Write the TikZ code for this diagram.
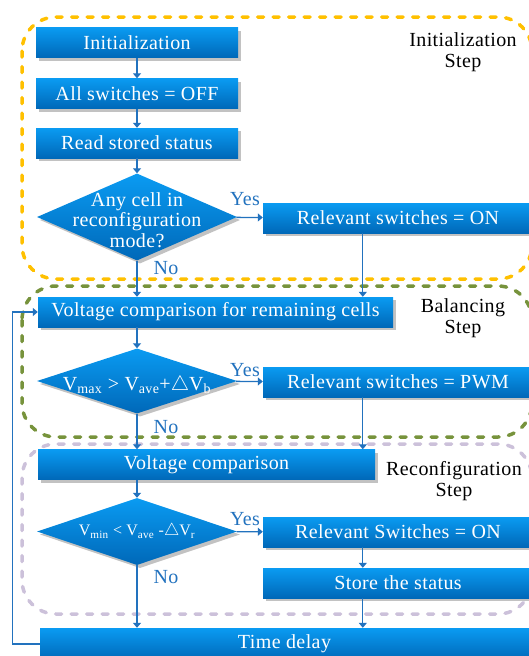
\documentclass[tikz,border=0pt]{standalone}
\usepackage{fontspec}
\setmainfont{Liberation Serif}[LetterSpace=2]
\usepackage{xcolor}
\usepackage{tikz}
\usetikzlibrary{shapes.geometric,arrows.meta,shadows}
\definecolor{CBoxTop}{HTML}{0A9BF2}
\definecolor{CBoxBot}{HTML}{0068B8}
\definecolor{CLine}{HTML}{2272BE}
\definecolor{CInit}{HTML}{FFC000}
\definecolor{CBal}{HTML}{77933C}
\definecolor{CRec}{HTML}{CCC1DA}

\begin{document}
\begin{tikzpicture}[inner sep=0pt,
  box/.style={shape=rectangle, minimum height=30pt, top color=CBoxTop, bottom color=CBoxBot, text=white, font=\fontsize{20}{22}\selectfont, drop shadow={shadow xshift=3pt, shadow yshift=-3pt, fill=gray!80, opacity=0.6}},
  decision/.style={shape=diamond, minimum width=200pt, top color=CBoxTop, bottom color=CBoxBot, drop shadow={shadow xshift=3pt, shadow yshift=-3pt, fill=gray!80, opacity=0.6}},
  dectext/.style={text=white, align=center, font=\fontsize{20}{20.5}\selectfont},
  answer/.style={text=CLine, font=\fontsize{20}{22}\selectfont},
  steplabel/.style={align=center, font=\fontsize{20}{21}\selectfont},
  flow/.style={draw=CLine, line width=1.3pt, -{Triangle[length=5pt,width=8pt]}},
  zone/.style={line width=3.5pt, dash pattern=on 6pt off 9.5pt, line cap=round, rounded corners=34pt}]
\useasboundingbox (0pt,0pt) rectangle (528pt,-656pt);

\draw [zone, CInit] (22pt,-17pt) rectangle (532pt,-279pt);
\draw [zone, CBal] (22pt,-286pt) rectangle (532pt,-437pt);
\draw [zone, CRec] (22pt,-444pt) rectangle (532pt,-614pt);

\node (n0) [box, minimum width=202pt, at={(137pt,-42.5pt)}] {Initialization};
\node (n1) [box, minimum width=202pt, at={(137pt,-93.5pt)}] {All switches = OFF};
\node (n2) [box, minimum width=202pt, at={(137pt,-143pt)}] {Read stored status};
\node (n3) [decision, minimum height=87pt, at={(137pt,-217pt)}, label={[dectext, yshift=-3pt]center:{Any cell in\\reconfiguration\\mode?}}] {};
\node (n4) [box, minimum width=270pt, at={(398pt,-218pt)}] {Relevant switches = ON};
\node (n5) [box, minimum width=355pt, at={(215.5pt,-312pt)}] {Voltage comparison for remaining cells};
\node (n6) [decision, minimum height=65pt, at={(137pt,-381pt)}, label={[dectext, yshift=-4pt]center:{V\textsubscript{max} > V\textsubscript{ave}+$\triangle$V\textsubscript{b}}}] {};
\node (n7) [box, minimum width=270pt, at={(398pt,-382pt)}] {Relevant switches = PWM};
\node (n8) [box, minimum width=337pt, at={(206.5pt,-464.5pt)}] {Voltage comparison};
\node (n9) [decision, minimum height=67pt, at={(137pt,-531.5pt)}, label={[dectext, font=\fontsize{16}{18}\selectfont]center:{V\textsubscript{min} < V\textsubscript{ave} -$\triangle$V\textsubscript{r}}}] {};
\node (n10) [box, minimum width=270pt, at={(398pt,-532pt)}] {Relevant Switches = ON};
\node (n11) [box, minimum width=270pt, at={(398pt,-583pt)}] {Store the status};
\node (n12) [box, minimum width=489pt, minimum height=32pt, at={(284.5pt,-644pt)}] {Time delay};

\node (n31) [answer, at={(245pt,-199pt)}] {Yes};
\node (n32) [answer, at={(166pt,-268pt)}] {No};
\node (n61) [answer, at={(245pt,-370pt)}] {Yes};
\node (n62) [answer, at={(166pt,-427pt)}] {No};
\node (n91) [answer, at={(245pt,-519pt)}] {Yes};
\node (n92) [answer, at={(166pt,-577pt)}] {No};

\node (s0) [steplabel, at={(463pt,-52pt)}] {Initialization\\Step};
\node (s1) [steplabel, at={(463pt,-318pt)}] {Balancing\\Step};
\node (s2) [steplabel, at={(454pt,-481pt)}] {Reconfiguration\\Step};

\coordinate (c4) at ([xshift=100pt]n4.south west);
\coordinate (c7) at ([xshift=100pt]n7.south west);
\coordinate (c10) at ([xshift=100pt]n10.south west);
\coordinate (c11) at ([xshift=100pt]n11.south west);

\path [flow] (n0)--(n1);
\path [flow] (n1)--(n2);
\path [flow] (n2)--(n3);
\path [flow] (n3)--(n4);
\path [flow] (n3.south)--(n3.south |- n5.north);
\path [flow] (c4)--(c4 |- n5.north);
\path [flow] (n6.north |- n5.south)--(n6.north);
\path [flow] (n6)--(n7);
\path [flow] (n6.south)--(n6.south |- n8.north);
\path [flow] (c7)--(c7 |- n8.north);
\path [flow] (n9.north |- n8.south)--(n9.north);
\path [flow] (n9)--(n10);
\path [flow] (c10)--(c10 |- n11.north);
\path [flow] (c11)--(c11 |- n12.north);
\path [flow] (n9.south)--(n9.south |- n12.north);
\path [flow] (n12.west)--++(-27pt,0pt)|-(n5.west);
\end{tikzpicture}
\end{document}
